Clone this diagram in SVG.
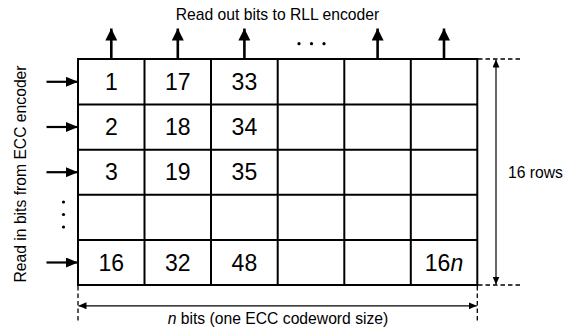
<svg xmlns="http://www.w3.org/2000/svg" width="580" height="330" viewBox="0 0 580 330">
<style>
text{font-family:"Liberation Sans",Arial,sans-serif;fill:#000}
.lbl{font-size:15.7px}
.num{font-size:23px;text-anchor:middle}
.grid{stroke:#000;stroke-width:2;fill:none}
.thick{stroke:#000;stroke-width:2.6;fill:none}
.mid{stroke:#000;stroke-width:2.2;fill:none}
.thin{stroke:#000;stroke-width:1.2;fill:none}
.dash{stroke:#000;stroke-width:1.3;fill:none;stroke-dasharray:4.5,3}
</style>
<defs>
<marker id="big" viewBox="0 0 12 12" refX="12" refY="6" markerWidth="12" markerHeight="12" markerUnits="userSpaceOnUse" orient="auto">
<path d="M0,0 L12,6 L0,12 Z" fill="#000"/>
</marker>
<marker id="mh" viewBox="0 0 12 10" refX="12" refY="5" markerWidth="12" markerHeight="10" markerUnits="userSpaceOnUse" orient="auto">
<path d="M0,0 L12,5 L0,10 Z" fill="#000"/>
</marker>
<marker id="sm" viewBox="0 0 8 7" refX="8" refY="3.5" markerWidth="8" markerHeight="7" markerUnits="userSpaceOnUse" orient="auto">
<path d="M0,0 L8,3.5 L0,7 Z" fill="#000"/>
</marker>
</defs>

<g id="title"><text class="lbl" x="277.5" y="19.5" text-anchor="middle">Read out bits to RLL encoder</text></g>
<g id="left-label"><text class="lbl" transform="translate(26,174) rotate(-90)" text-anchor="middle">Read in bits from ECC encoder</text></g>
<g id="rows-label"><text class="lbl" x="508" y="177.5">16 rows</text></g>
<g id="bits-label"><text class="lbl" x="278" y="324" text-anchor="middle"><tspan font-style="italic">n</tspan> bits (one ECC codeword size)</text></g>

<g id="grid">
<rect class="grid" x="78" y="59" width="399.3" height="226"/>
<path class="grid" d="M144.5,59V285 M211,59V285 M277.7,59V285 M344.3,59V285 M410.8,59V285 M78,104.5H477.3 M78,149.7H477.3 M78,194.8H477.3 M78,240H477.3"/>
</g>

<g id="cells">
<text class="num" x="111.3" y="90">1</text>
<text class="num" x="177.8" y="90">17</text>
<text class="num" x="244.4" y="90">33</text>
<text class="num" x="111.3" y="135.2">2</text>
<text class="num" x="177.8" y="135.2">18</text>
<text class="num" x="244.4" y="135.2">34</text>
<text class="num" x="111.3" y="180.3">3</text>
<text class="num" x="177.8" y="180.3">19</text>
<text class="num" x="244.4" y="180.3">35</text>
<text class="num" x="111.3" y="270.6">16</text>
<text class="num" x="177.8" y="270.6">32</text>
<text class="num" x="244.4" y="270.6">48</text>
<text class="num" x="444" y="270.6">16<tspan font-style="italic">n</tspan></text>
</g>

<g id="connectors">
<path class="thick" d="M111.3,59V28.5" marker-end="url(#big)"/>
<path class="thick" d="M177.8,59V28.5" marker-end="url(#big)"/>
<path class="thick" d="M244.4,59V28.5" marker-end="url(#big)"/>
<path class="thick" d="M377.6,59V28.5" marker-end="url(#big)"/>
<path class="thick" d="M444,59V28.5" marker-end="url(#big)"/>
<path class="mid" d="M46.5,81.8H78" marker-end="url(#mh)"/>
<path class="mid" d="M46.5,127H78" marker-end="url(#mh)"/>
<path class="mid" d="M46.5,172.2H78" marker-end="url(#mh)"/>
<path class="mid" d="M46.5,262.5H78" marker-end="url(#mh)"/>
<path class="dash" d="M478,59H522 M478,285H522 M78,286V321 M477.3,286V321"/>
<path class="thin" d="M496,170V59.5" marker-end="url(#sm)"/>
<path class="thin" d="M496,170V284.5" marker-end="url(#sm)"/>
<path class="thin" d="M278,305.8H78.5" marker-end="url(#sm)"/>
<path class="thin" d="M278,305.8H476.8" marker-end="url(#sm)"/>
</g>

<g id="dots">
<circle cx="299" cy="43.7" r="1.6"/>
<circle cx="311.5" cy="43.7" r="1.6"/>
<circle cx="324" cy="43.7" r="1.6"/>
<circle cx="63.5" cy="202" r="1.6"/>
<circle cx="63.5" cy="214.5" r="1.6"/>
<circle cx="63.5" cy="227" r="1.6"/>
</g>
</svg>
